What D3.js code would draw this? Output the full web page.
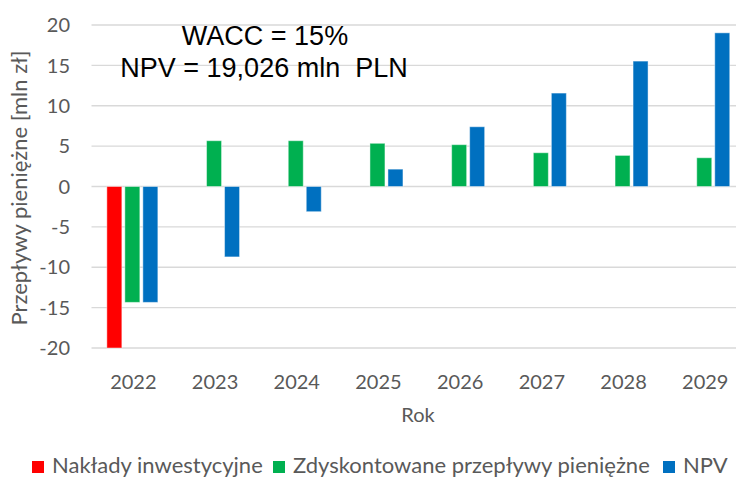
<html>
<head>
<meta charset="utf-8" />
<title>NPV</title>
<script src="https://d3js.org/d3.v7.min.js"></script>
<style>
  body { margin: 0; background: white; }
  text { font-family: "Lato", "Open Sans", sans-serif; fill: #595959; }
  .grid line { stroke: #d9d9d9; stroke-width: 1.3; }
  .note { font-family: "Liberation Sans", Arial, sans-serif; fill: #000; font-size: 27px; }
</style>
</head>
<body>
<script>
// data
var years = ["2022", "2023", "2024", "2025", "2026", "2027", "2028", "2029"];
var seriesNames = ["Nakłady inwestycyjne", "Zdyskontowane przepływy pieniężne", "NPV"];
var colors = ["#ff0000", "#00b050", "#0070c0"];
var naklady = [-20, null, null, null, null, null, null, null];
var zdyskontowane = [-14.35, 5.67, 5.67, 5.35, 5.18, 4.18, 3.85, 3.56];
var npv = [-14.35, -8.72, -3.12, 2.15, 7.4, 11.57, 15.53, 19.03];
var yTicks = [-20, -15, -10, -5, 0, 5, 10, 15, 20];

var width = 736, height = 479;

var svg = d3.select("body").append("svg")
    .attr("width", width)
    .attr("height", height);

// plot goes a bit past the right edge, as in the original
var x = d3.scaleBand().domain(years).range([91.5, 91.5 + 8 * 81.7]);
var xs = d3.scaleBand().domain(d3.range(3)).range([-27, 27])
    .paddingInner(0.167).paddingOuter(0.083);
var y = d3.scaleLinear().domain([-20, 20]).range([348, 25]);

// gridlines
svg.append("g").attr("class", "grid")
  .selectAll("line")
  .data(yTicks)
  .enter().append("line")
    .attr("x1", x.range()[0])
    .attr("x2", x.range()[1])
    .attr("y1", function(d) { return y(d); })
    .attr("y2", function(d) { return y(d); });

// y tick labels
svg.append("g")
  .selectAll("text")
  .data(yTicks)
  .enter().append("text")
    .attr("x", 70)
    .attr("y", function(d) { return y(d); })
    .attr("dy", "0.36em")
    .attr("text-anchor", "end")
    .style("font-size", "20px")
    .text(function(d) { return d; });

// bars
var all = [naklady, zdyskontowane, npv];
var bars = [];
all.forEach(function(vals, s) {
  vals.forEach(function(v, i) {
    if (v !== null) bars.push({s: s, year: years[i], v: v});
  });
});

svg.append("g")
  .selectAll("rect")
  .data(bars)
  .enter().append("rect")
    .attr("x", function(d) { return x(d.year) + x.bandwidth() / 2 + xs(d.s); })
    .attr("width", xs.bandwidth())
    .attr("y", function(d) { return y(Math.max(0, d.v)); })
    .attr("height", function(d) { return Math.abs(y(d.v) - y(0)); })
    .attr("fill", function(d) { return colors[d.s]; })
    .attr("stroke", "white")
    .attr("stroke-opacity", 0.45)
    .attr("stroke-width", 1);

// x labels
svg.append("g")
  .selectAll("text")
  .data(years)
  .enter().append("text")
    .attr("x", function(d) { return x(d) + x.bandwidth() / 2 + 1; })
    .attr("y", 389)
    .attr("text-anchor", "middle")
    .style("font-size", "20px")
    .text(function(d) { return d; });

// axis titles
svg.append("text")
    .attr("x", 418)
    .attr("y", 422)
    .attr("text-anchor", "middle")
    .style("font-size", "20px")
    .text("Rok");

svg.append("text")
    .attr("transform", "translate(27,188)rotate(-90)")
    .attr("text-anchor", "middle")
    .style("font-size", "22px")
    .text("Przepływy pieniężne [mln zł]");

// annotation
svg.append("text").attr("class", "note")
    .attr("x", 265).attr("y", 45)
    .attr("text-anchor", "middle")
    .text("WACC = 15%");
svg.append("text").attr("class", "note")
    .attr("x", 264).attr("y", 77)
    .attr("text-anchor", "middle")
    .style("white-space", "pre")
    .text("NPV = 19,026 mln  PLN");

// legend
var legendX = [32, 273, 663];
var leg = svg.append("g")
  .selectAll("g")
  .data(seriesNames)
  .enter().append("g")
    .attr("transform", function(d, i) { return "translate(" + legendX[i] + ",0)"; });

leg.append("rect")
    .attr("y", 461)
    .attr("width", 12)
    .attr("height", 12)
    .attr("fill", function(d, i) { return colors[i]; });

leg.append("text")
    .attr("x", 20)
    .attr("y", 473)
    .style("font-size", "22px")
    .text(function(d) { return d; });
</script>
</body>
</html>
